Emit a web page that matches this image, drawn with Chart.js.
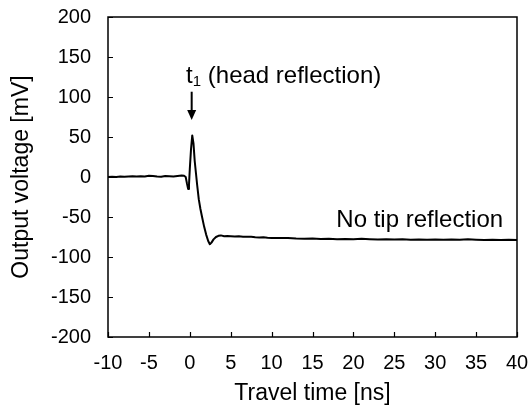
<!DOCTYPE html>
<html><head><meta charset="utf-8">
<script src="https://cdn.jsdelivr.net/npm/chart.js@4/dist/chart.umd.min.js"></script>
<style>html,body{margin:0;padding:0;background:#fff}#wrap{width:530px;height:410px}</style>
</head><body><div id="wrap"><canvas id="c" width="530" height="410"></canvas></div>
<script>
// ---- data ----
const timeNs = [
  -10,-9.5,-9,-8.5,-8,-7.5,-7,-6.5,-6,-5.5,-5,-4.5,-4,-3.5,-3,-2.5,-2,-1.5,-1,-0.7,-0.5,-0.35,-0.2,-0.1,
  0,0.15,0.3,0.45,0.6,0.75,0.9,1.1,1.3,1.5,1.75,2.0,2.25,2.45,2.65,2.9,3.2,3.5,3.8,4.2,4.6,
  5,5.5,6,6.5,7,7.5,8,8.5,9,9.5,10,11,12,13,14,15,16,17,18,19,20,21,22,23,24,25,26,27,28,29,30,
  31,32,33,34,35,36,37,38,39,40
];
const voltageMv = [
  0,0.3,0,0.5,0.2,0.5,0.8,0.5,1,0.6,1.5,1.2,0.5,0.3,1.2,0.8,0.5,1.2,2,1.5,0,-8,-15,-10,
  10,35,52,42,20,5,-10,-28,-40,-50,-62,-72,-80,-84,-82,-78,-75,-73.5,-73,-74,-73.8,
  -74,-74.3,-74.2,-74.6,-74.8,-74.6,-75.2,-75.5,-75.3,-75.9,-76.1,-76.4,-76.2,-76.9,-77.2,-77,-77.6,-77.3,-77.8,-77.4,-77.9,-77.2,-77.7,-78.1,-77.8,-78.2,-77.9,-78.3,-78,-78.4,-78.2,
  -78.5,-78.1,-78.4,-77.8,-78.3,-78.6,-78.4,-78.7,-78.5,-78.6
];
const xTickValues = [-10,-5,0,5,10,15,20,25,30,35,40];
const yTickValues = [-200,-150,-100,-50,0,50,100,150,200];
const xTitle = 'Travel time [ns]';
const yTitle = 'Output voltage [mV]';
const headMain = 't';
const headSub = '1';
const headRest = ' (head reflection)';
const tailNote = 'No tip reflection';

const FONT = '"Liberation Sans", Arial, sans-serif';

const framePlugin = {
  id: 'frame',
  afterDraw(chart) {
    const ctx = chart.ctx, a = chart.chartArea;
    const xs = chart.scales.x, ys = chart.scales.y;
    ctx.save();
    ctx.strokeStyle = '#000';
    ctx.lineWidth = 1.5;
    ctx.strokeRect(a.left, a.top, a.right - a.left, a.bottom - a.top);
    ctx.lineWidth = 1.2;
    ctx.beginPath();
    xTickValues.forEach(v => {
      const p = Math.round(xs.getPixelForValue(v)) + 0.5;
      ctx.moveTo(p, a.bottom); ctx.lineTo(p, a.bottom - 5);
    });
    yTickValues.forEach(v => {
      const p = Math.round(ys.getPixelForValue(v)) + 0.5;
      ctx.moveTo(a.left, p); ctx.lineTo(a.left + 5, p);
    });
    ctx.stroke();

    // head reflection label
    ctx.fillStyle = '#000';
    ctx.textBaseline = 'alphabetic';
    ctx.textAlign = 'left';
    let px = xs.getPixelForValue(-0.45), py = ys.getPixelForValue(117);
    ctx.font = '24px ' + FONT;
    ctx.fillText(headMain, px, py);
    let w = ctx.measureText(headMain).width;
    ctx.font = '15px ' + FONT;
    ctx.fillText(headSub, px + w, py + 3);
    w += ctx.measureText(headSub).width;
    ctx.font = '24px ' + FONT;
    ctx.fillText(headRest, px + w, py);

    // arrow
    const ax = xs.getPixelForValue(0.23);
    const ay0 = ys.getPixelForValue(106.6), ay1 = ys.getPixelForValue(71.3);
    ctx.lineWidth = 2;
    ctx.beginPath();
    ctx.moveTo(ax, ay0); ctx.lineTo(ax, ay1 - 8);
    ctx.stroke();
    ctx.beginPath();
    ctx.moveTo(ax - 4.5, ay1 - 10); ctx.lineTo(ax + 4.5, ay1 - 10); ctx.lineTo(ax, ay1);
    ctx.closePath(); ctx.fill();

    // tail label
    ctx.textAlign = 'right';
    ctx.font = '24px ' + FONT;
    ctx.fillText(tailNote, xs.getPixelForValue(38.3), ys.getPixelForValue(-62));
    ctx.restore();
  }
};

new Chart(document.getElementById('c'), {
  type: 'scatter',
  data: {
    datasets: [{
      data: timeNs.map((t, i) => ({x: t, y: voltageMv[i]})),
      showLine: true,
      borderColor: '#000',
      borderWidth: 2,
      borderJoinStyle: 'round',
      borderCapStyle: 'round',
      pointRadius: 0,
      tension: 0,
      fill: false
    }]
  },
  options: {
    responsive: false,
    animation: false,
    devicePixelRatio: 1,
    layout: {padding: {top: 17, right: 13, left: 0, bottom: 0}},
    plugins: {legend: {display: false}, tooltip: {enabled: false}},
    scales: {
      x: {
        type: 'linear', min: -10, max: 40,
        afterBuildTicks: s => { s.ticks = xTickValues.map(v => ({value: v})); },
        afterFit: s => { s.height = 73; s.paddingLeft = 0; s.paddingRight = 0; },
        grid: {display: false, drawTicks: false}, border: {display: false},
        ticks: {font: {family: FONT, size: 20}, color: '#000', padding: 14, maxRotation: 0},
        title: {display: true, text: xTitle, font: {family: FONT, size: 23}, color: '#000', padding: {top: 0, bottom: 3}}
      },
      y: {
        type: 'linear', min: -200, max: 200,
        afterBuildTicks: s => { s.ticks = yTickValues.map(v => ({value: v})); },
        afterFit: s => { s.width = 108; s.paddingTop = 0; s.paddingBottom = 0; },
        grid: {display: false, drawTicks: false}, border: {display: false},
        ticks: {font: {family: FONT, size: 20}, color: '#000', padding: 17},
        title: {display: true, text: yTitle, font: {family: FONT, size: 23}, color: '#000', padding: {top: 8, bottom: 0}}
      }
    }
  },
  plugins: [framePlugin]
});
</script>
</body></html>
